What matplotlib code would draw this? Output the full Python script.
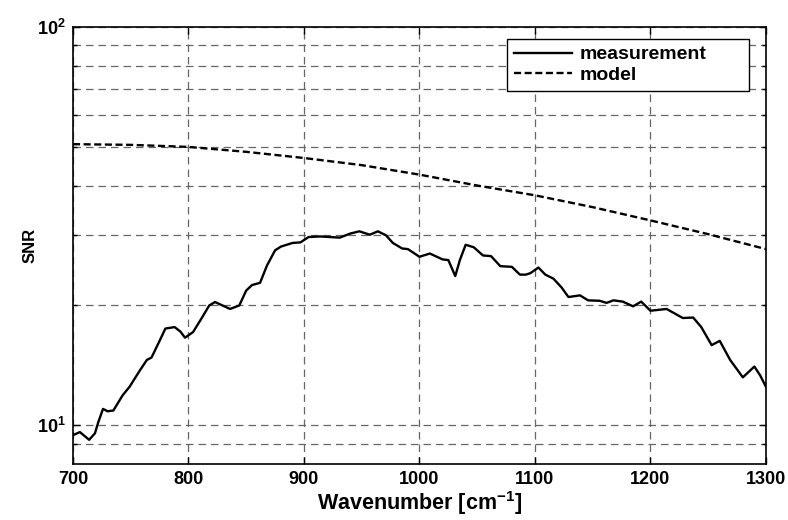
import numpy as np
import matplotlib
matplotlib.use('Agg')
import matplotlib.pyplot as plt
from matplotlib.ticker import FixedLocator, FuncFormatter, NullFormatter

plt.rcParams['font.family'] = ['Liberation Sans', 'DejaVu Sans']
plt.rcParams['font.weight'] = 'bold'
plt.rcParams['mathtext.fontset'] = 'custom'
plt.rcParams['mathtext.rm'] = 'Liberation Sans:bold'
plt.rcParams['mathtext.bf'] = 'Liberation Sans:bold'
plt.rcParams['mathtext.it'] = 'Liberation Sans:bold'

meas_wn = [700, 706, 714, 719, 722, 726, 730, 735, 743, 749, 758, 764, 768, 775, 780,
           788, 793, 797, 804, 811, 818, 823, 836, 844, 850, 855, 862, 868, 875, 880,
           890, 897, 904, 914, 931, 940, 948, 957, 964, 971, 977, 985, 990, 1000, 1009,
           1020, 1025, 1031, 1035, 1040, 1047, 1055, 1062, 1070, 1080, 1087, 1092, 1096,
           1103, 1109, 1116, 1123, 1129, 1139, 1146, 1156, 1162, 1168, 1176, 1185, 1192,
           1200, 1214, 1228, 1237, 1244, 1253, 1260, 1269, 1280, 1290, 1295, 1300]
meas_snr = [9.45, 9.62, 9.2, 9.55, 10.2, 11.0, 10.85, 10.9, 11.9, 12.5, 13.75, 14.6, 14.8,
            16.3, 17.5, 17.65, 17.2, 16.6, 17.15, 18.5, 20.0, 20.4, 19.6, 20.0, 21.8, 22.5,
            22.8, 25.2, 27.5, 28.1, 28.7, 28.8, 29.7, 29.8, 29.6, 30.3, 30.7, 30.1, 30.7,
            30.0, 28.7, 27.8, 27.7, 26.5, 27.0, 26.1, 26.0, 23.7, 26.0, 28.4, 28.0, 26.7,
            26.6, 25.1, 25.0, 23.9, 23.9, 24.1, 24.9, 23.9, 23.35, 22.2, 21.0, 21.2, 20.6,
            20.55, 20.3, 20.6, 20.45, 19.9, 20.45, 19.4, 19.6, 18.6, 18.65, 17.65, 15.9,
            16.3, 14.6, 13.2, 14.05, 13.35, 12.5]

# model SNR
model_wn = [700, 750, 800, 850, 900, 950, 1000, 1050, 1100, 1150, 1200, 1250, 1300]
model_snr = [50.8, 50.6, 50.0, 48.6, 46.9, 45.0, 42.6, 40.0, 37.8, 35.3, 32.7, 30.2, 27.7]

x_ticks = [700, 800, 900, 1000, 1100, 1200, 1300]

fig = plt.figure(figsize=(7.88, 5.2), dpi=100)
ax = fig.add_axes([0.0926, 0.1077, 0.8794, 0.8404])

ax.plot(meas_wn, meas_snr, color='black', lw=1.7, label='measurement')
ax.plot(model_wn, model_snr, color='black', lw=1.7, ls=(0, (3, 1.5)), label='model')

ax.set_yscale('log')
ax.set_xlim(700, 1300)
ax.set_ylim(8, 100)
ax.xaxis.set_major_locator(FixedLocator(x_ticks))
ax.yaxis.set_major_locator(FixedLocator([10, 100]))
ax.yaxis.set_minor_locator(FixedLocator([9] + list(range(20, 100, 10))))
ax.yaxis.set_major_formatter(FuncFormatter(lambda v, p: r'$\mathbf{10^{%d}}$' % round(np.log10(v))))
ax.yaxis.set_minor_formatter(NullFormatter())

grid_kw = dict(color='#666666', ls=(0, (6, 4)), lw=0.9)
ax.grid(True, which='major', **grid_kw)
ax.grid(True, which='minor', axis='y', **grid_kw)

ax.tick_params(which='both', direction='in', top=True, right=True, labelsize=13, width=1)
ax.tick_params(which='major', length=5, pad=5)
ax.tick_params(which='minor', length=3)
for lbl in ax.get_xticklabels() + ax.get_yticklabels():
    lbl.set_fontweight('bold')
for s in ax.spines.values():
    s.set_linewidth(1.2)

ax.set_xlabel(r'Wavenumber [cm$^{\mathbf{-1}}$]', fontsize=15.5, fontweight='bold', labelpad=1)
ax.set_ylabel('SNR', fontsize=12, fontweight='bold', labelpad=0)

leg = ax.legend(loc='upper left', bbox_to_anchor=(0.626, 0.5, 0.35, 0.4725), mode='expand',
                prop={'size': 14, 'weight': 'bold'}, handlelength=3.0, handletextpad=0.4,
                labelspacing=0.15, fancybox=False, edgecolor='black', framealpha=1,
                borderaxespad=0, borderpad=0.35)
leg.get_frame().set_linewidth(1)

fig.savefig('out.png', dpi=100)
